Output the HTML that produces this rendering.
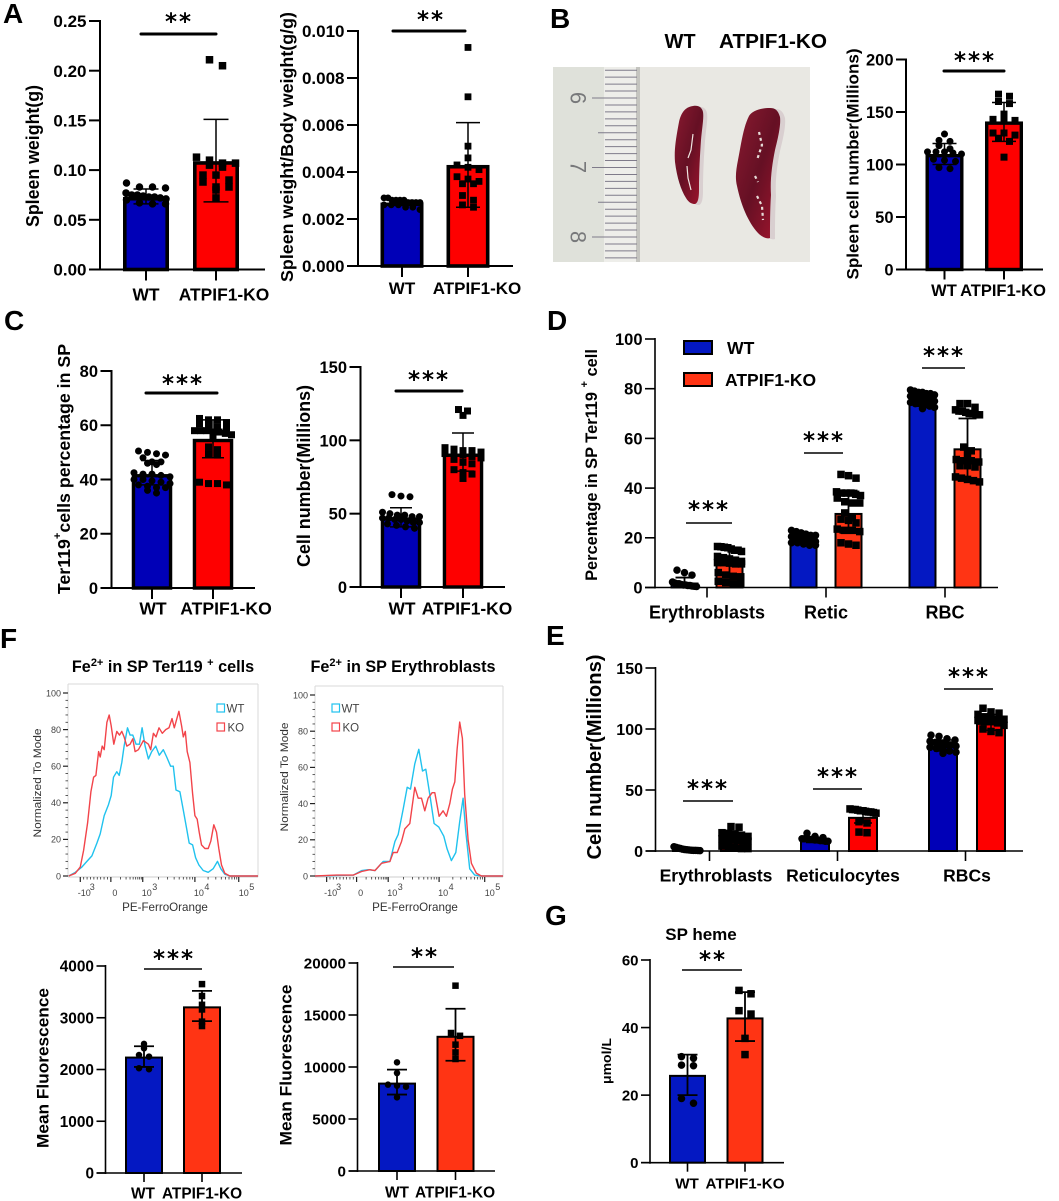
<!DOCTYPE html>
<html lang="en">
<head>
<meta charset="utf-8">
<title>ATPIF1-KO spleen erythropoiesis figure</title>
<style>
  html, body { margin: 0; padding: 0; background: #fff; }
  body { width: 1059px; height: 1201px; overflow: hidden; }
  svg { display: block; }
  text { font-family: "Liberation Sans", sans-serif; fill: #000; }
</style>
</head>
<body>
<svg id="figure" xmlns="http://www.w3.org/2000/svg" width="1059" height="1201" viewBox="0 0 1059 1201">
  <defs>
    <linearGradient id="spleen-fill" x1="0" y1="0" x2="1" y2="1">
      <stop offset="0" stop-color="#8a1a30"/>
      <stop offset="0.5" stop-color="#651024"/>
      <stop offset="1" stop-color="#a3152e"/>
    </linearGradient>
  </defs>
  <g font-weight="700" font-size="28">
    <text x="3" y="23">A</text>
    <text x="550" y="28">B</text>
    <text x="4" y="330">C</text>
    <text x="547" y="330">D</text>
    <text x="546" y="645">E</text>
    <text x="0" y="648">F</text>
    <text x="545" y="925">G</text>
  </g>

  <g>
    <text x="680" y="48" font-size="20" font-weight="700" text-anchor="middle">WT</text>
    <text x="773" y="48" font-size="20" font-weight="700" text-anchor="middle" textLength="108" lengthAdjust="spacingAndGlyphs">ATPIF1-KO</text>
    <rect x="553" y="67" width="257" height="195" fill="#e9e8e3"/>
    <rect x="553" y="67" width="52" height="195" fill="#dfe1da"/>
    <rect x="604" y="67" width="34" height="195" fill="#eeeeea"/>
    <rect x="636" y="67" width="4" height="195" fill="#c4c4bf"/>
    <g id="ruler-ticks"></g>
    <text transform="translate(578 98) rotate(90)" font-size="22" text-anchor="middle" dominant-baseline="central" style="fill:#77787a">6</text>
    <text transform="translate(578 167) rotate(90)" font-size="22" text-anchor="middle" dominant-baseline="central" style="fill:#77787a">7</text>
    <text transform="translate(578 237) rotate(90)" font-size="22" text-anchor="middle" dominant-baseline="central" style="fill:#77787a">8</text>
    <path transform="translate(4 1)" fill="#d9cfd0" d="M693 106C685 107 681 113 679 122C676 138 674 150 675 162C677 178 681 190 686 198C689 203 692 204 695 204C698 203 699 198 699 190C699 170 700 155 701 140C702 128 704 118 703 112C702 107 698 105 693 106Z"/>
    <path fill="url(#spleen-fill)" d="M693 106C685 107 681 113 679 122C676 138 674 150 675 162C677 178 681 190 686 198C689 203 692 204 695 204C698 203 699 198 699 190C699 170 700 155 701 140C702 128 704 118 703 112C702 107 698 105 693 106Z"/>
    <path transform="translate(5 1)" fill="#d9cfd0" d="M770 108C760 108 752 111 749 116C743 128 741 145 738 160C736 170 735 178 737 186C741 205 748 222 758 233C763 238 768 239 770 238C770 225 770 210 771 195C770 180 772 165 775 150C778 138 781 125 780 117C778 110 775 108 770 108Z"/>
    <path fill="url(#spleen-fill)" d="M770 108C760 108 752 111 749 116C743 128 741 145 738 160C736 170 735 178 737 186C741 205 748 222 758 233C763 238 768 239 770 238C770 225 770 210 771 195C770 180 772 165 775 150C778 138 781 125 780 117C778 110 775 108 770 108Z"/>
    <path fill="none" stroke="#efe4e0" stroke-width="1.2" d="M693 134L691 150L688 158M687 166L688 178L691 190"/>
    <path fill="none" stroke="#e6dcd8" stroke-width="2.2" stroke-dasharray="3 3" d="M759 132L762 145L757 160M755 176L758 182M757 196L762 206L763 220"/>
  </g>

  <g id="charts"></g>
</svg>

<script>
/* ---------- chart data ---------- */
const twoCategories = ['WT', 'ATPIF1-KO'];

const a1Ticks = ['0.00', '0.05', '0.10', '0.15', '0.20', '0.25'];
const a1Means = [0.073, 0.109];
const a1Upper = [0.081, 0.151];
const a1Lower = [0.066, 0.068];
const a1Wt = [0.087, 0.083, 0.083, 0.082, 0.077, 0.075, 0.075, 0.074, 0.073, 0.073, 0.072, 0.071, 0.07, 0.067, 0.066, 0.066];
const a1Ko = [0.211, 0.205, 0.113, 0.11, 0.107, 0.107, 0.105, 0.103, 0.095, 0.095, 0.09, 0.088, 0.083, 0.083, 0.08, 0.072];

const a2Ticks = ['0.000', '0.002', '0.004', '0.006', '0.008', '0.010'];
const a2Means = [0.0027, 0.0043];
const a2Upper = [0.0028, 0.0061];
const a2Lower = [0.0026, 0.0025];
const a2Wt = [0.0029, 0.0029, 0.0028, 0.0028, 0.0028, 0.0028, 0.0027, 0.0027, 0.0027, 0.0027, 0.0026, 0.0026, 0.0026, 0.0025, 0.0025, 0.0024];
const a2Ko = [0.0093, 0.0072, 0.0051, 0.0046, 0.0043, 0.0042, 0.0041, 0.0038, 0.0037, 0.0036, 0.0035, 0.0035, 0.0030, 0.0028, 0.0026, 0.0025];

const bTicks = ['0', '50', '100', '150', '200'];
const bMeans = [110, 141];
const bUpper = [120, 159];
const bLower = [100, 122];
const bWt = [129, 123, 122, 118, 115, 112, 112, 112, 111, 110, 105, 104, 103, 97, 96];
const bKo = [167, 165, 160, 158, 148, 143, 142, 142, 130, 130, 128, 125, 122, 107];

const c1Ticks = ['0', '20', '40', '60', '80'];
const c1Means = [42, 55];
const c1Upper = [47, 62];
const c1Lower = [38, 48];
const c1Wt = [50.5, 50, 49.5, 49, 48, 46.5, 46.5, 46, 45.5, 42.5, 42, 42, 41.5, 41, 40, 40, 39.5, 39, 38.5, 38, 37.5, 37, 37, 36, 35];
const c1Ko = [62.5, 62, 62, 61, 60.5, 60, 59.5, 59, 58, 58, 58, 57.5, 57.5, 57, 56.5, 56, 52, 51, 49.5, 49, 39, 38.5, 38.5, 38];

const c2Ticks = ['0', '50', '100', '150'];
const c2Means = [47.5, 91];
const c2Upper = [54, 105];
const c2Lower = [41, 79];
const c2Wt = [63, 62, 61.5, 51, 50, 49, 49, 48, 48, 47, 47, 46, 46, 45, 44, 44, 43, 42, 41, 40];
const c2Ko = [121, 120, 117, 95, 94, 93, 93, 92, 91, 91, 90, 89, 88, 87, 85, 84, 80, 78, 77, 74];

const dGroups = ['Erythroblasts', 'Retic', 'RBC'];
const dTicks = ['0', '20', '40', '60', '80', '100'];
const dMeans = [2, 10, 19.5, 30, 75.5, 56];
const dUpper = [4, 15, 21, 39, 78, 68];
const dLower = [0.2, 5, 18, 22, 73, 44];
const dEryWt = [7, 6, 5, 2.2, 1.8, 1.5, 1.5, 1.2, 1, 1, 0.8, 0.8, 0.6, 0.5, 0.4];
const dEryKo = [16.5, 16.4, 16.2, 16, 15.5, 15, 15, 14.5, 12.5, 12, 11.5, 11, 10.5, 10, 10, 9.8, 9.5, 9.5, 6, 5, 4.5, 4.3, 2.5, 2, 1.5, 1.5];
const dRetWt = [23, 22.5, 22, 21.5, 21, 21, 20.5, 20.5, 20, 20, 20, 20, 19.5, 19.5, 19, 19, 19, 18.5, 18.5, 18.5, 18, 18, 17.5, 17, 17];
const dRetKo = [45.5, 45, 44, 38.5, 38, 38, 38, 37.5, 37, 36, 34.5, 34, 34, 30, 28, 27.5, 27, 26, 23.5, 23, 23, 22.5, 18, 17.5, 17];
const dRbcWt = [79.5, 79, 78.5, 78.5, 78, 78, 77.5, 77, 77, 76.5, 76.5, 76, 76, 76, 75.5, 75.5, 75, 75, 74.5, 74, 74, 73.5, 73, 72.5, 72];
const dRbcKo = [74, 74, 72.5, 71.5, 71, 71, 70.5, 70, 70, 69.5, 69.5, 56.5, 55, 54, 51.5, 51, 51, 50.5, 49, 49, 48.5, 44.5, 44, 43.5, 43, 42.5];

const eGroups = ['Erythroblasts', 'Reticulocytes', 'RBCs'];
const eTicks = ['0', '50', '100', '150'];
const eMeans = [1, 9, 9, 28, 86, 105];
const eUpper = [1.6, 14, 11, 33, 91, 112];
const eLower = [0.5, 4, 7, 23, 82, 99];
const eEryWt = [3.5, 3, 2.5, 2, 1.5, 1.2, 1, 0.8, 0.6, 0.5, 0.5, 0.4, 0.3];
const eEryKo = [20, 19.5, 15, 14.5, 14, 13, 12, 10, 9, 9, 8.5, 8, 8, 4, 3.5, 3, 2, 2];
const eRetWt = [14.5, 12, 11, 10, 10, 10, 9.5, 9.5, 9, 9, 8.5, 8.5, 8, 8];
const eRetKo = [34.5, 34, 34, 33.5, 33, 33, 32.5, 32, 32, 31.5, 31, 24, 23, 15.5, 15];
const eRbcWt = [95, 94, 92, 91, 90, 89, 88, 88, 87, 86, 85, 84, 83, 82, 81, 80];
const eRbcKo = [117, 114, 113, 112, 110, 109, 108, 108, 107, 106, 106, 105, 103, 100, 98, 97];

const f3Ticks = ['0', '1000', '2000', '3000', '4000'];
const f3Means = [2250, 3220];
const f3Upper = [2450, 3520];
const f3Lower = [2050, 2935];
const f3Wt = [2495, 2410, 2280, 2250, 2025, 2005];
const f3Ko = [3650, 3420, 3250, 3160, 2925, 2840];

const f4Ticks = ['0', '5000', '10000', '15000', '20000'];
const f4Means = [8500, 13000];
const f4Upper = [9750, 15600];
const f4Lower = [7350, 10600];
const f4Wt = [10450, 9420, 8300, 8200, 8100, 7080];
const f4Ko = [17820, 13270, 13000, 12150, 11400, 10770];

const gTicks = ['0', '20', '40', '60'];
const gMeans = [26, 43];
const gUpper = [32, 50.5];
const gLower = [20, 36];
const gWt = [31.4, 30.9, 28.9, 28.7, 19, 17.6];
const gKo = [51, 50, 45, 44, 36.8, 32];

/* flow-cytometry histograms: channel on the display axis, % of mode */
const flowYTicks = ['0', '20', '40', '60', '80', '100'];
const flowXTickLabels = ['-10', '0', '10', '10', '10'];
const flowXTickExponents = ['3', '', '3', '4', '5'];

const f1Channels = {
  ko: [2, 22, 37, 47, 59, 69, 77, 84, 92, 97, 103, 109, 117, 124, 130, 138, 147, 155, 162, 169, 177, 187, 195, 202, 212, 227, 242, 249, 257, 265, 274, 284, 294, 304, 313, 320, 334, 342, 347, 353, 359, 367, 375, 382, 389, 395, 402, 412, 422, 430, 439, 447, 454, 462, 472, 487, 572],
  wt: [2, 22, 42, 57, 72, 87, 97, 109, 122, 130, 137, 147, 154, 162, 169, 179, 187, 195, 205, 215, 223, 232, 242, 252, 264, 275, 287, 297, 309, 317, 325, 337, 347, 357, 365, 375, 384, 394, 407, 422, 437, 450, 460, 472, 487, 572]
};
const f1KoValues = [0, 1.5, 5, 14, 29, 46, 54, 55, 68, 65, 71, 69, 84, 88, 82, 72, 79, 77, 79, 76, 71, 72, 75, 68, 69, 74, 72, 69, 78, 76, 81, 78, 80, 81, 86, 81, 90, 82, 76, 79, 68, 62, 45, 33, 31, 24, 17, 15, 15, 19, 28, 24, 15, 6, 1.5, 0, 0];
const f1WtValues = [0, 2, 5, 8, 11, 18, 23, 33, 39, 44, 54, 57, 55, 62, 71, 81, 77, 77, 72, 72, 81, 71, 64, 68, 71, 66, 69, 65, 60, 60, 47, 46, 36, 26, 18, 17, 10, 6, 3, 2, 4, 8, 4, 1, 0, 0];

const f2Channels = {
  ko: [0, 65, 115, 140, 165, 180, 200, 225, 235, 247, 260, 270, 285, 300, 310, 320, 330, 340, 352, 360, 373, 385, 395, 405, 413, 420, 427, 435, 443, 450, 460, 470, 485, 500, 565],
  wt: [0, 115, 140, 160, 180, 205, 225, 240, 250, 265, 277, 287, 300, 312, 323, 333, 345, 358, 372, 387, 397, 410, 423, 435, 445, 453, 465, 480, 500, 565]
};
const f2KoValues = [0, 0.5, 0.5, 2.5, 3.5, 3, 7, 8, 13, 13, 19, 26, 29, 49, 43, 43, 36, 43, 46, 46, 33, 36, 33, 40, 48, 52, 70, 85, 76, 45, 20, 7, 1.5, 0, 0];
const f2WtValues = [0, 0.5, 3, 3.5, 3, 8, 8, 19, 23, 37, 49, 48, 62, 70, 58, 59, 45, 29, 27, 22, 15, 8.5, 13, 30, 43, 25, 4, 0.5, 0, 0];

/* ---------- drawing helpers ---------- */
const NS = 'http://www.w3.org/2000/svg';
const root = document.getElementById('charts');

function make(tag, parent, name, geometry) {
  const el = document.createElementNS(NS, tag);
  
  
  for (const key in geometry) el.setAttribute(key, geometry[key]);
  parent.appendChild(el);
  return el;
}
function line(parent, name, x1, y1, x2, y2, width, color) {
  return make('line', parent, name, { x1, y1, x2, y2, stroke: color || '#000', 'stroke-width': width });
}
function label(parent, name, x, y, str, size, weight, anchor, color) {
  const el = make('text', parent, name, { x, y, 'font-size': size, 'font-weight': weight || 700, 'text-anchor': anchor || 'middle' });
  el.textContent = str;
  if (color) el.style.fill = color;
  return el;
}
function rotatedTitle(parent, name, cx, cy, html, size, length) {
  const el = make('text', parent, name, {
    transform: 'translate(' + cx + ' ' + cy + ') rotate(-90)',
    'font-size': size, 'font-weight': 700, 'text-anchor': 'middle', 'dominant-baseline': 'central'
  });
  el.innerHTML = html;
  if (length) {
    el.setAttribute('textLength', length);
    el.setAttribute('lengthAdjust', 'spacingAndGlyphs');
  }
  return el;
}
function stars(parent, name, cx, cy, count) {
  const el = make('text', parent, name, {
    x: cx + 1, y: cy + 11.5, 'font-size': 23, 'font-weight': 700,
    'text-anchor': 'middle', 'letter-spacing': 2
  });
  el.style.fontFamily = '"DejaVu Sans", sans-serif';
  el.textContent = '*'.repeat(count);
  return el;
}
function rows(values, yOf, binHeight, spacing, maxWidth) {
  const sorted = values.slice().sort((a, b) => b - a);
  const bins = [];
  sorted.forEach(v => {
    const last = bins[bins.length - 1];
    if (last && Math.abs(yOf(last[0]) - yOf(v)) <= binHeight) last.push(v);
    else bins.push([v]);
  });
  const placed = [];
  bins.forEach(bin => {
    const gap = bin.length > 1 ? Math.min(spacing, maxWidth / (bin.length - 1)) : 0;
    bin.forEach((v, i) => placed.push({ v, off: (i - (bin.length - 1) / 2) * gap }));
  });
  return placed;
}
function barPanel(p) {
  const g = make('g', root, 'chart-' + p.id, {});
  const axisMax = parseFloat(p.ticks[p.ticks.length - 1]);
  const yOf = v => p.y0 - (v / axisMax) * (p.y0 - p.yTop);
  const grouped = p.categories.length === 3;
  const tickX = i => p.first + i * p.step + (p.tickShift || 0);
  const barX = i => grouped ? p.first + Math.floor(i / 2) * p.step + (i % 2 ? p.off : -p.off) : p.first + i * p.step;

  p.means.forEach((mean, i) => {
    const isKo = i % 2 === 1;
    const series = isKo ? 'ko' : 'wt';
    const sw = p.barStroke;
    const top = yOf(mean);
    const bar = make('rect', g, 'bar-' + series, {
      x: barX(i) - p.barW / 2 + sw / 2, y: top + sw / 2,
      width: p.barW - sw, height: Math.max(0, p.y0 - top - sw / 2),
      fill: isKo ? p.koColor : p.wtColor, stroke: '#000', 'stroke-width': sw
    });
    bar.setAttribute('data-value', mean);
    line(g, 'error-bar-' + series, barX(i), yOf(p.upper[i]), barX(i), yOf(p.lower[i]), p.errW);
    line(g, 'error-cap-upper-' + series, barX(i) - p.cap, yOf(p.upper[i]), barX(i) + p.cap, yOf(p.upper[i]), p.errW);
    line(g, 'error-cap-lower-' + series, barX(i) - p.cap, yOf(p.lower[i]), barX(i) + p.cap, yOf(p.lower[i]), p.errW);
    rows(p.points[i], yOf, p.binH, p.spacing, p.maxW).forEach(pt => {
      if (isKo) {
        const s = make('rect', g, 'point-ko', {
          x: barX(i) + pt.off - p.mark / 2, y: yOf(pt.v) - p.mark / 2, width: p.mark, height: p.mark, fill: '#000'
        });
        s.setAttribute('data-value', pt.v);
      } else {
        const c = make('circle', g, 'point-wt', { cx: barX(i) + pt.off, cy: yOf(pt.v), r: p.mark / 2, fill: '#000' });
        c.setAttribute('data-value', pt.v);
      }
    });
  });

  line(g, 'y-axis', p.axisX, p.yTop - 1, p.axisX, p.y0 + 1, p.axisW);
  line(g, 'x-axis', p.axisX - p.tickLen, p.y0, p.xEnd, p.y0, p.axisW);
  p.ticks.forEach(t => {
    const y = yOf(parseFloat(t));
    line(g, 'y-tick', p.axisX - p.tickLen, y, p.axisX, y, p.axisW);
    label(g, 'y-tick-label', p.axisX - p.tickLen - 2.5, y + p.tickFont * 0.36, t, p.tickFont, 700, 'end');
  });
  p.categories.forEach((c, i) => {
    line(g, 'x-tick', tickX(i), p.y0, tickX(i), p.y0 + p.tickLen, p.axisW);
    label(g, 'x-tick-label', p.labelAt[i], p.labelY + p.labelFont * 0.36, c, p.labelFont);
  });
  p.sig.forEach(s => {
    const b = line(g, 'significance-bar', s[0], s[2], s[1], s[2], p.sigW);
    if (p.sigW > 2) b.setAttribute('stroke-linecap', 'round');
    stars(g, 'significance-stars', s[3], s[4], s[5]);
  });
  rotatedTitle(g, 'y-axis-title', p.titleX, p.titleY, p.title, p.titleFont, p.titleLen);
}
function flowPanel(p) {
  const g = make('g', root, 'histogram-' + p.id, {});
  const xOf = ch => p.left + ch * (p.right - p.left) / p.channelMax;
  const yOf = v => p.y0 - v * (p.y0 - p.y100) / 100;
  line(g, 'frame-top', p.left, p.top, p.right, p.top, 1, '#d9d9d9');
  line(g, 'frame-right', p.right, p.top, p.right, p.y0 + 1, 1, '#d9d9d9');
  line(g, 'frame-left', p.left, p.top, p.left, p.y0 + 1, 1, '#d9d9d9');
  for (let i = 0; i <= 5; i++) {
    const majorY = yOf(i * 20);
    line(g, 'y-tick', p.left - 5, majorY, p.left, majorY, 1.2, '#222');
    if (i < 5) {
      for (let k = 1; k < 5; k++) {
        const yMinor = yOf(i * 20 + k * 4);
        line(g, 'y-minor-tick', p.left - 2.5, yMinor, p.left, yMinor, 0.8, '#333');
      }
    }
    label(g, 'y-tick-label', p.left - 7, majorY + 3.3, flowYTicks[i], 9, 400, 'end', '#444');
  }
  line(g, 'x-baseline', p.left, p.y0 + 1, p.right, p.y0 + 1, 0.8, '#bbb');
  p.xMajors.forEach((ch, i) => {
    const x = xOf(ch);
    line(g, 'x-tick', x, p.y0 + 1, x, p.y0 + 6, 1.2, '#222');
    const base = label(g, 'x-tick-label', x + p.labelShift[i], p.y0 + 20, flowXTickLabels[i], 9, 400, 'middle', '#444');
    if (flowXTickExponents[i]) {
      label(g, 'x-tick-exponent', x + p.labelShift[i] + 8, p.y0 + 14, flowXTickExponents[i], 9, 400, 'middle', '#444');
    }
    base.setAttribute('data-major', ch);
    const next = p.xMajors[i + 1];
    if (next !== undefined) {
      for (let k = 1; k < 9; k++) {
        const frac = i === 0 ? k / 9 : Math.log10(k + 1);
        const xm = xOf(ch + (next - ch) * frac);
        line(g, 'x-minor-tick', xm, p.y0 + 1, xm, p.y0 + 3.5, 0.8, '#333');
      }
    }
  });
  const curve = (channels, values, color, name) => {
    const d = channels.map((ch, i) => xOf(ch).toFixed(1) + ',' + yOf(values[i]).toFixed(1)).join(' ');
    make('polyline', g, name, { points: d, fill: 'none', stroke: color, 'stroke-width': 1.4, 'stroke-linejoin': 'round' });
  };
  curve(p.wtX, p.wtY, '#20c2ee', 'histogram-curve-wt');
  curve(p.koX, p.koY, '#f2444a', 'histogram-curve-ko');
  make('rect', g, 'legend-swatch-wt', { x: p.legendX, y: p.legendY, width: 7.5, height: 8, fill: 'none', stroke: '#20c2ee', 'stroke-width': 1.2 });
  make('rect', g, 'legend-swatch-ko', { x: p.legendX, y: p.legendY + 19, width: 7.5, height: 8, fill: 'none', stroke: '#f2444a', 'stroke-width': 1.2 });
  label(g, 'legend-label-wt', p.legendX + 9.5, p.legendY + 8.5, 'WT', 11.5, 400, 'start', '#444');
  label(g, 'legend-label-ko', p.legendX + 10.5, p.legendY + 27.5, 'KO', 11.5, 400, 'start', '#444');
  label(g, 'x-axis-title', p.xTitle, 911, 'PE-FerroOrange', 11.6, 400, 'middle', '#333');
  const yTitle = rotatedTitle(g, 'y-axis-title', p.yTitleX, p.yTitleY, 'Normalized To Mode', 11, 109);
  yTitle.setAttribute('font-weight', 400);
  yTitle.style.fill = '#333';
  const heading = label(g, 'histogram-title', p.titleX, 672, '', 16.2);
  heading.innerHTML = p.titleHtml;
}

/* ---------- ruler ---------- */
const rulerG = document.getElementById('ruler-ticks');
for (let mm = -4; mm < 24; mm++) {
  const y = 98 + mm * 6.95;
  if (y < 68 || y > 261) continue;
  const isCm = mm % 10 === 0;
  const isHalf = ((mm % 10) + 10) % 10 === 5;
  line(rulerG, 'ruler-tick', isCm ? 592 : (isHalf ? 598 : 605), y, 637, y, 1, '#7f7b8a');
}

/* ---------- bar panels ---------- */
const BLUE = '#0000b7', RED = '#fe0000', BLUE2 = '#0418c2', RED2 = '#ff3414';

barPanel({ id: 'spleen-weight', categories: twoCategories, ticks: a1Ticks, means: a1Means, upper: a1Upper, lower: a1Lower, points: [a1Wt, a1Ko],
  axisX: 100, y0: 269.5, yTop: 21, xEnd: 265, first: 146, step: 70, barW: 46, barStroke: 3.6, wtColor: BLUE, koColor: RED,
  errW: 1.5, cap: 12.5, mark: 7.5, binH: 6.5, spacing: 13, maxW: 40, axisW: 2, tickLen: 11, tickFont: 17, labelFont: 17.4, labelAt: [146, 224], labelY: 294,
  sig: [[141, 216, 34, 178, 18, 2]], sigW: 3, title: 'Spleen weight(g)', titleX: 33, titleY: 156, titleFont: 18, titleLen: 142 });

barPanel({ id: 'spleen-weight-ratio', categories: twoCategories, ticks: a2Ticks, means: a2Means, upper: a2Upper, lower: a2Lower, points: [a2Wt, a2Ko],
  axisX: 358, y0: 266, yTop: 31, xEnd: 513, first: 402, step: 66, barW: 43, barStroke: 3.6, wtColor: BLUE, koColor: RED,
  errW: 1.5, cap: 12, mark: 6.8, binH: 5, spacing: 11, maxW: 36, axisW: 2, tickLen: 11, tickFont: 17, labelFont: 17, labelAt: [402, 477], labelY: 288,
  sig: [[393, 465, 31, 430, 16, 2]], sigW: 3, title: 'Spleen weight/Body weight(g/g)', titleX: 287, titleY: 147, titleFont: 17.5, titleLen: 270 });

barPanel({ id: 'spleen-cell-number', categories: twoCategories, ticks: bTicks, means: bMeans, upper: bUpper, lower: bLower, points: [bWt, bKo],
  axisX: 906, y0: 269.5, yTop: 59.5, xEnd: 1043, first: 944.5, step: 59.5, barW: 38, barStroke: 3.4, wtColor: BLUE, koColor: RED,
  errW: 1.5, cap: 12, mark: 7, binH: 5, spacing: 11, maxW: 34, axisW: 2, tickLen: 10, tickFont: 16.5, labelFont: 16.5, labelAt: [944, 1003], labelY: 290,
  sig: [[944, 1004, 71, 974, 57, 3]], sigW: 3, title: 'Spleen cell number(Millions)', titleX: 853, titleY: 164, titleFont: 17, titleLen: 231 });

barPanel({ id: 'ter119-percentage', categories: twoCategories, ticks: c1Ticks, means: c1Means, upper: c1Upper, lower: c1Lower, points: [c1Wt, c1Ko],
  axisX: 111.5, y0: 588, yTop: 371, xEnd: 255, first: 152, step: 61, barW: 40.5, barStroke: 3.4, wtColor: BLUE, koColor: RED,
  errW: 1.5, cap: 11, mark: 7, binH: 5, spacing: 9, maxW: 37, axisW: 2, tickLen: 11, tickFont: 16.5, labelFont: 17.6, labelAt: [153, 226], labelY: 608,
  sig: [[146, 217, 393, 182, 380, 3]], sigW: 3, title: 'Ter119<tspan dy="-6" font-size="11">+</tspan><tspan dy="6">cells percentage in SP</tspan>', titleX: 64, titleY: 469, titleFont: 17.8 });

barPanel({ id: 'ter119-cell-number', categories: twoCategories, ticks: c2Ticks, means: c2Means, upper: c2Upper, lower: c2Lower, points: [c2Wt, c2Ko],
  axisX: 360.5, y0: 587, yTop: 367, xEnd: 505, first: 401, step: 62, barW: 40.5, barStroke: 3.4, wtColor: BLUE, koColor: RED,
  errW: 1.5, cap: 11, mark: 7, binH: 5, spacing: 9, maxW: 37, axisW: 2, tickLen: 11, tickFont: 16.5, labelFont: 17.4, labelAt: [402, 467], labelY: 608,
  sig: [[396, 462, 391, 428, 376, 3]], sigW: 3, title: 'Cell number(Millions)', titleX: 304, titleY: 476, titleFont: 18, titleLen: 182 });

barPanel({ id: 'sp-ter119-percentage', categories: dGroups, ticks: dTicks, means: dMeans, upper: dUpper, lower: dLower,
  points: [dEryWt, dEryKo, dRetWt, dRetKo, dRbcWt, dRbcKo],
  axisX: 655, y0: 587.5, yTop: 339, xEnd: 998, first: 707, step: 119, off: 22.5, barW: 28, barStroke: 2, wtColor: BLUE2, koColor: RED2,
  errW: 1.8, cap: 9, mark: 7.5, binH: 5, spacing: 7.5, maxW: 24, axisW: 1.6, tickLen: 10, tickFont: 16.5, labelFont: 18, labelAt: [707, 826, 945], labelY: 612,
  sig: [[686, 732, 523, 708, 506, 3], [804, 843, 453, 823, 437, 3], [922, 965, 368, 943, 352, 3]], sigW: 1.5,
  title: 'Percentage in SP Ter119 <tspan dy="-7" font-size="11">+</tspan><tspan dy="7"> cell</tspan>', titleX: 592, titleY: 465, titleFont: 16.4 });

barPanel({ id: 'cell-number-by-stage', categories: eGroups, ticks: eTicks, means: eMeans, upper: eUpper, lower: eLower,
  points: [eEryWt, eEryKo, eRetWt, eRetKo, eRbcWt, eRbcKo],
  axisX: 655.5, y0: 851, yTop: 668, xEnd: 1023, first: 711, step: 128, off: 24, tickShift: -1.5, barW: 30, barStroke: 2, wtColor: BLUE, koColor: RED,
  errW: 1.5, cap: 9, mark: 7.5, binH: 5, spacing: 8, maxW: 26, axisW: 1.6, tickLen: 10, tickFont: 16, labelFont: 17.5, labelAt: [716, 843, 967], labelY: 875,
  sig: [[683, 733, 801, 707, 785, 3], [813, 862, 789, 837, 773, 3], [944, 993, 689, 968, 673, 3]], sigW: 1.5,
  title: 'Cell number(Millions)', titleX: 595, titleY: 757, titleFont: 20, titleLen: 205 });

barPanel({ id: 'mean-fluorescence-ter119', categories: twoCategories, ticks: f3Ticks, means: f3Means, upper: f3Upper, lower: f3Lower, points: [f3Wt, f3Ko],
  axisX: 105.5, y0: 1173, yTop: 966, xEnd: 242, first: 144, step: 58, barW: 38, barStroke: 2, wtColor: BLUE2, koColor: RED2,
  errW: 1.8, cap: 10, mark: 6.5, binH: 4, spacing: 10, maxW: 30, axisW: 1.6, tickLen: 9, tickFont: 15.4, labelFont: 15.4, labelAt: [143, 202], labelY: 1193,
  sig: [[144, 202, 969, 173, 955, 3]], sigW: 1.5, title: 'Mean Fluorescence', titleX: 43, titleY: 1068, titleFont: 17, titleLen: 160 });

barPanel({ id: 'mean-fluorescence-erythroblasts', categories: twoCategories, ticks: f4Ticks, means: f4Means, upper: f4Upper, lower: f4Lower, points: [f4Wt, f4Ko],
  axisX: 357.5, y0: 1171, yTop: 963, xEnd: 495, first: 397, step: 58.5, barW: 38, barStroke: 2, wtColor: BLUE2, koColor: RED2,
  errW: 1.8, cap: 10, mark: 6.5, binH: 3, spacing: 9, maxW: 30, axisW: 1.6, tickLen: 9, tickFont: 15.2, labelFont: 15.4, labelAt: [397, 455], labelY: 1192,
  sig: [[393, 454, 967, 424, 953, 2]], sigW: 1.5, title: 'Mean Fluorescence', titleX: 286, titleY: 1065, titleFont: 17, titleLen: 161 });

barPanel({ id: 'sp-heme', categories: twoCategories, ticks: gTicks, means: gMeans, upper: gUpper, lower: gLower, points: [gWt, gKo],
  axisX: 650, y0: 1162.7, yTop: 960, xEnd: 784, first: 687.5, step: 57.5, barW: 37, barStroke: 2, wtColor: BLUE2, koColor: RED2,
  errW: 1.8, cap: 10, mark: 7.5, binH: 5, spacing: 12, maxW: 30, axisW: 1.6, tickLen: 9, tickFont: 15, labelFont: 15.2, labelAt: [687, 745], labelY: 1183,
  sig: [[682, 742, 970, 712, 956, 2]], sigW: 1.5, title: 'μmol/L', titleX: 607, titleY: 1061, titleFont: 12.5, titleLen: 46 });

/* legend for panel D */
const dLegend = make('g', root, 'legend-panel-d', {});
make('rect', dLegend, 'legend-swatch-wt', { x: 684, y: 341, width: 28, height: 13, fill: BLUE2, stroke: '#000', 'stroke-width': 2 });
make('rect', dLegend, 'legend-swatch-ko', { x: 684, y: 373, width: 28, height: 13, fill: RED2, stroke: '#000', 'stroke-width': 2 });
label(dLegend, 'legend-label-wt', 727, 354, 'WT', 17.6, 700, 'start');
label(dLegend, 'legend-label-ko', 725, 386, 'ATPIF1-KO', 17.5, 700, 'start');

/* panel G heading */
label(root, 'chart-title-sp-heme', 701, 940, 'SP heme', 17);

/* ---------- flow histograms ---------- */
flowPanel({ id: 'ter119', left: 68, right: 258, top: 684, y0: 876, y100: 693, channelMax: 572,
  wtX: f1Channels.wt, wtY: f1WtValues, koX: f1Channels.ko, koY: f1KoValues,
  xMajors: [37, 129, 225, 382, 514], labelShift: [4, 4, 4, 4, 5],
  legendX: 217, legendY: 704, xTitle: 165, yTitleX: 38, yTitleY: 783,
  titleX: 163, titleHtml: 'Fe<tspan dy="-6" font-size="11">2+</tspan><tspan dy="6"> in SP Ter119 </tspan><tspan dy="-6" font-size="11">+</tspan><tspan dy="6"> cells</tspan>' });
flowPanel({ id: 'erythroblasts', left: 315, right: 503, top: 686, y0: 876, y100: 695, channelMax: 565,
  wtX: f2Channels.wt, wtY: f2WtValues, koX: f2Channels.ko, koY: f2KoValues,
  xMajors: [35, 125, 220, 373, 510], labelShift: [4, 4, 4, 4, 5],
  legendX: 332, legendY: 704, xTitle: 415, yTitleX: 285, yTitleY: 777,
  titleX: 403, titleHtml: 'Fe<tspan dy="-6" font-size="11">2+</tspan><tspan dy="6"> in SP Erythroblasts</tspan>' });
</script>
</body>
</html>
